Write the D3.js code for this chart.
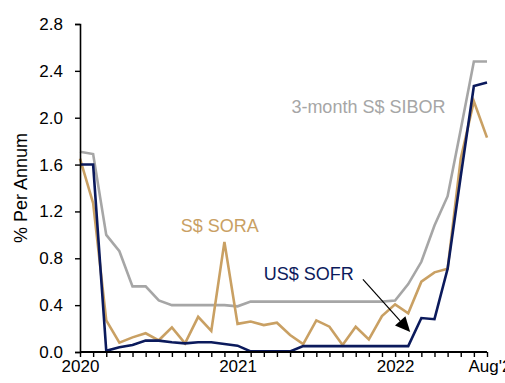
<!DOCTYPE html>
<html>
<head>
<meta charset="utf-8">
<script src="https://cdn.jsdelivr.net/npm/d3@7/dist/d3.min.js"></script>
<style>
  html, body { margin: 0; padding: 0; background: #fff; overflow: hidden; }
  svg { display: block; font-family: Arial, "Liberation Sans", sans-serif; }
</style>
</head>
<body>
<svg id="chart" width="505" height="383"></svg>
<script>
// Monthly observations, Jan 2020 – Aug 2022
const months = [
  "2020-01","2020-02","2020-03","2020-04","2020-05","2020-06","2020-07","2020-08",
  "2020-09","2020-10","2020-11","2020-12","2021-01","2021-02","2021-03","2021-04",
  "2021-05","2021-06","2021-07","2021-08","2021-09","2021-10","2021-11","2021-12",
  "2022-01","2022-02","2022-03","2022-04","2022-05","2022-06","2022-07","2022-08"
];

// 3-month S$ SIBOR (% p.a.)
const sibor = [
  1.71, 1.69, 1.00, 0.86, 0.56, 0.56, 0.44, 0.40,
  0.40, 0.40, 0.40, 0.40, 0.39, 0.43, 0.43, 0.43,
  0.43, 0.43, 0.43, 0.43, 0.43, 0.43, 0.43, 0.43,
  0.44, 0.58, 0.77, 1.08, 1.33, 1.90, 2.48, 2.48
];

// S$ SORA (% p.a.)
const sora = [
  1.65, 1.27, 0.27, 0.08, 0.125, 0.16, 0.10, 0.21,
  0.074, 0.30, 0.18, 0.94, 0.24, 0.26, 0.23, 0.25,
  0.145, 0.068, 0.27, 0.216, 0.06, 0.216, 0.108, 0.307,
  0.407, 0.33, 0.60, 0.68, 0.71, 1.65, 2.14, 1.83
];

// US$ SOFR (% p.a.)
const sofr = [
  1.60, 1.60, 0.01, 0.04, 0.06, 0.097, 0.097, 0.083,
  0.074, 0.083, 0.083, 0.068, 0.054, 0.005, 0.005, 0.005,
  0.005, 0.05, 0.05, 0.05, 0.05, 0.05, 0.05, 0.05,
  0.05, 0.05, 0.29, 0.28, 0.71, 1.50, 2.27, 2.30
];

const yTicks = [0, 0.4, 0.8, 1.2, 1.6, 2.0, 2.4, 2.8];
const xTickLabels = { "2020-01": "2020", "2021-01": "2021", "2022-01": "2022", "2022-08": "Aug'22" };

const colors = { sibor: "#a6a6a6", sora: "#c9a063", sofr: "#0b1a5c" };

const svg = d3.select("#chart");
const plotLeft = 80, plotRight = 487, plotTop = 24, plotBottom = 352;

const x = d3.scalePoint().domain(months).range([plotLeft, plotRight]).padding(0);
const y = d3.scaleLinear().domain([0, 2.8]).range([plotBottom, plotTop]);

// Series lines
const line = d3.line()
  .x((d, i) => x(months[i]))
  .y(d => y(d));

[["sibor", sibor], ["sora", sora], ["sofr", sofr]].forEach(([key, vals]) => {
  svg.append("path")
    .datum(vals)
    .attr("fill", "none")
    .attr("stroke", colors[key])
    .attr("stroke-width", 2.6)
    .attr("stroke-linejoin", "miter")
    .attr("d", line);
});

// Y axis
const yAxis = svg.append("g")
  .attr("transform", `translate(${plotLeft},0)`)
  .call(d3.axisLeft(y).tickValues(yTicks).tickFormat(d3.format(".1f")).tickSize(5).tickPadding(12));
yAxis.select(".domain").attr("stroke", "#000").attr("stroke-width", 1.6);
yAxis.selectAll(".tick line").attr("stroke", "#000").attr("stroke-width", 1.4);
yAxis.selectAll("text").attr("font-size", 17).attr("fill", "#000");

// X axis
const xAxis = svg.append("g")
  .attr("transform", `translate(0,${plotBottom})`)
  .call(d3.axisBottom(x).tickSize(5).tickPadding(3).tickFormat(d => xTickLabels[d] || ""));
xAxis.select(".domain").attr("stroke", "#000").attr("stroke-width", 2).attr("d", `M${plotLeft},0H${plotRight}`);
xAxis.selectAll(".tick line").attr("stroke", "#000").attr("stroke-width", 1.4);
xAxis.selectAll("text").attr("font-size", 17).attr("fill", "#000");
// the last month's label sits a little right of its tick
xAxis.selectAll(".tick text").filter(d => d === months[months.length - 1])
  .attr("text-anchor", "start").attr("dx", -19);

// Y axis title
svg.append("text")
  .attr("transform", `translate(27,${(plotTop + plotBottom) / 2}) rotate(-90)`)
  .attr("text-anchor", "middle")
  .attr("font-size", 18)
  .attr("fill", "#000")
  .text("% Per Annum");

// Series labels (positioned in data coordinates: month index, value)
const xi = i => plotLeft + (plotRight - plotLeft) * i / (months.length - 1);
const labels = [
  { text: "3-month S$ SIBOR", i: 16.1, v: 2.04, color: colors.sibor },
  { text: "S$ SORA", i: 7.67, v: 1.027, color: colors.sora },
  { text: "US$ SOFR", i: 14.0, v: 0.614, color: colors.sofr }
];
labels.forEach(l => {
  svg.append("text")
    .attr("x", xi(l.i))
    .attr("y", y(l.v))
    .attr("font-size", 18)
    .attr("fill", l.color)
    .text(l.text);
});

// Arrow pointing at SOFR
const a0 = [xi(21.55), y(0.62)];
const a1 = [xi(25.15), y(0.17)];
const ang = Math.atan2(a1[1] - a0[1], a1[0] - a0[0]);
const headLen = 15, headHalf = 7;
const base = [a1[0] - headLen * Math.cos(ang), a1[1] - headLen * Math.sin(ang)];
svg.append("line")
  .attr("x1", a0[0]).attr("y1", a0[1])
  .attr("x2", base[0]).attr("y2", base[1])
  .attr("stroke", "#000").attr("stroke-width", 1.2);
const perp = ang + Math.PI / 2;
svg.append("path")
  .attr("d", d3.line()([
    a1,
    [base[0] + headHalf * Math.cos(perp), base[1] + headHalf * Math.sin(perp)],
    [base[0] - headHalf * Math.cos(perp), base[1] - headHalf * Math.sin(perp)]
  ]) + "Z")
  .attr("fill", "#000");
</script>
</body>
</html>
